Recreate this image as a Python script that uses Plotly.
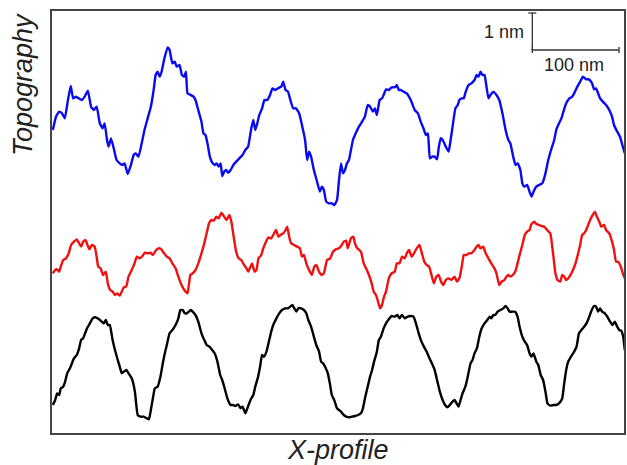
import numpy as np
import plotly.graph_objects as go

blue_x = [132,140,148,155,162,170,177,183,190,197,205,212,220,228,235,242,250,257,262,268,272,278,285,292,300,306,312,320,328,335,340,347,355,362,370,378,385,390,395,400,405,412,420,425,432,438,443,450,456,462,466,470,478,485,490,498,505,510,515,520,526,532,538,543,548,553,557,562,567,572,578,585,592,600,608,615,622,630,635,640,645,650,657,663,670,677,683,690,697,705,710,716,722,728,735,742,750,758,765,770,775,780,787,795,802,807,812,818,825,832,838,845,850,855,860,865,870,875,880,885,892,900,908,915,922,928,935,940,945,952,958,962,968,975,982,990,995,1000,1005,1012,1020,1030,1040,1048,1055,1062,1068,1073,1078,1084,1090,1096,1100,1105,1110,1118,1125,1130,1135,1142,1148,1152,1158,1163,1168,1175,1182,1190,1195,1200,1205,1210,1215,1220,1225,1230,1237,1245,1252,1260,1268,1275,1280,1287,1293,1298,1305,1310,1315,1322,1328,1333,1338,1345,1352,1360,1368,1375,1382,1390,1395,1402,1408,1413,1420,1428,1435,1440,1447,1455,1462,1470,1477,1485,1490,1495,1500,1505,1512,1520,1528,1535,1540,1548,1555,1562,1567]
blue_y = [390,350,335,340,355,300,258,295,290,295,300,290,272,320,330,320,370,385,370,420,440,415,445,480,490,495,490,522,495,465,460,470,430,390,355,320,270,225,215,230,215,175,142,150,190,185,200,195,225,230,215,280,285,290,300,335,365,400,405,430,470,488,495,490,500,490,528,515,510,518,510,495,485,475,465,450,440,385,360,390,370,345,325,300,300,285,265,270,265,260,245,270,275,300,325,325,340,380,420,480,455,470,510,545,575,560,570,605,610,610,615,600,540,490,520,510,490,480,450,420,400,380,365,350,315,320,335,325,345,300,295,285,268,270,262,262,255,270,270,275,280,300,330,340,365,385,405,400,475,470,470,478,445,415,420,440,455,420,380,325,315,300,295,295,275,255,250,240,225,230,215,225,225,260,295,285,275,285,300,340,390,420,430,470,495,490,510,550,560,555,575,590,575,560,555,550,520,480,450,420,390,370,355,335,310,295,290,280,262,245,230,238,238,250,268,265,280,295,305,315,330,350,375,395,410,440,460]

red_x = [132,138,143,148,152,158,165,172,178,185,192,198,203,208,214,218,224,230,237,242,246,252,258,265,270,276,282,288,294,300,305,310,316,322,330,337,343,350,357,363,370,377,383,390,397,404,410,418,425,432,440,447,455,462,470,477,483,490,497,505,512,518,524,530,536,542,548,555,562,568,575,580,587,592,598,605,612,618,622,628,632,638,643,648,655,660,667,673,680,687,692,698,703,710,716,720,725,730,737,745,752,757,762,768,775,782,788,793,800,806,812,820,828,835,842,850,857,862,868,872,876,880,886,890,896,905,912,918,925,932,937,943,948,953,958,963,968,975,982,990,995,1002,1008,1015,1020,1026,1032,1038,1045,1052,1058,1064,1070,1076,1082,1088,1094,1100,1106,1112,1118,1125,1132,1140,1146,1152,1158,1163,1170,1176,1182,1190,1195,1200,1205,1212,1218,1225,1232,1240,1245,1252,1258,1265,1270,1275,1280,1286,1292,1298,1303,1310,1316,1322,1328,1333,1340,1345,1352,1358,1365,1372,1380,1387,1393,1398,1405,1410,1415,1420,1428,1435,1442,1448,1455,1460,1465,1470,1475,1482,1488,1492,1497,1503,1508,1515,1520,1528,1535,1540,1545,1550,1557,1562,1567]
red_y = [820,810,808,815,800,780,775,760,735,725,718,730,740,725,720,732,748,735,740,770,800,805,825,815,850,870,875,885,880,887,875,862,860,830,810,790,770,775,768,758,760,758,765,752,745,748,758,770,775,790,805,830,855,870,880,825,820,810,790,760,730,700,670,660,662,650,655,638,650,660,645,665,720,755,775,780,795,805,815,800,790,815,810,775,765,745,725,712,715,700,690,710,705,700,690,680,710,730,735,740,745,770,765,790,810,825,800,795,815,825,820,780,775,755,748,745,735,725,722,745,730,715,710,730,745,755,790,805,825,850,875,885,905,925,915,890,875,835,820,815,790,790,770,775,760,750,770,760,745,735,760,785,795,800,825,850,830,825,845,855,840,835,840,830,845,835,800,765,765,760,760,750,740,735,745,740,760,775,790,805,820,855,845,840,830,825,830,825,815,790,765,735,705,695,690,672,665,672,675,678,680,690,700,760,820,840,845,825,830,840,830,815,795,770,735,705,700,690,675,655,642,635,650,665,680,675,690,700,725,750,785,785,800,820,835]

black_x = [132,138,143,148,152,158,163,168,175,180,185,192,198,203,208,213,218,225,232,240,248,255,260,265,270,275,282,288,295,300,305,310,317,322,330,338,345,352,360,368,373,378,383,388,395,402,408,413,418,425,432,440,447,452,458,463,468,473,478,483,490,497,505,512,518,525,532,538,545,552,557,562,570,578,584,590,597,603,608,615,620,628,635,640,647,652,657,662,668,675,680,685,693,700,707,715,722,728,733,738,743,748,755,762,768,773,780,787,793,800,805,810,815,822,827,832,838,845,850,855,862,868,875,882,890,898,905,910,916,922,928,933,938,945,950,955,962,968,975,982,990,996,1002,1008,1015,1022,1030,1037,1043,1050,1057,1063,1070,1077,1083,1090,1097,1103,1110,1116,1122,1128,1135,1140,1145,1150,1155,1160,1167,1173,1180,1185,1190,1196,1202,1208,1215,1222,1228,1232,1237,1242,1248,1255,1262,1268,1273,1278,1285,1292,1298,1303,1310,1316,1322,1328,1333,1338,1345,1350,1356,1362,1368,1373,1380,1388,1395,1402,1410,1415,1420,1425,1432,1440,1446,1452,1458,1465,1472,1478,1484,1490,1495,1500,1505,1510,1517,1523,1530,1536,1542,1548,1553,1558,1563,1567]
black_y = [1215,1200,1180,1185,1165,1160,1145,1120,1105,1090,1075,1065,1045,1020,1015,1000,985,970,955,952,958,965,970,960,975,975,1020,1050,1080,1100,1120,1115,1110,1120,1135,1175,1245,1250,1250,1255,1258,1230,1195,1165,1160,1130,1090,1060,1035,1000,990,975,955,930,930,940,940,935,930,935,945,965,1000,1020,1035,1040,1050,1060,1085,1125,1140,1160,1195,1215,1215,1218,1213,1225,1220,1240,1225,1200,1185,1160,1130,1100,1065,1070,1055,1020,995,975,955,940,930,925,925,920,915,925,935,925,925,930,940,960,980,1010,1035,1055,1085,1090,1100,1120,1150,1185,1200,1225,1230,1235,1245,1250,1252,1250,1248,1245,1240,1225,1190,1160,1130,1110,1085,1055,1020,1010,985,970,958,948,950,945,955,945,955,950,948,950,970,1000,1025,1040,1055,1075,1090,1110,1145,1175,1200,1215,1222,1215,1205,1200,1210,1220,1200,1180,1160,1130,1090,1080,1060,1045,1010,985,970,960,950,955,945,945,935,930,925,918,925,935,935,935,950,980,1010,1025,1035,1060,1070,1060,1085,1095,1125,1140,1175,1210,1217,1215,1215,1210,1195,1150,1110,1085,1070,1055,1040,1000,990,980,968,950,930,918,920,935,925,935,940,950,965,975,965,980,990,992,1010,1050]

# Convert picture units to nm (100 nm = 87 px, 1 nm = 37 px)
def to_nm(xs, ys):
    x = (np.array(xs) / 2.5 - 52) * 100 / 87
    y = (433 - np.array(ys) / 3) / 37
    return x, y

series = [("blue", blue_x, blue_y, "#0a0af0"),
          ("red", red_x, red_y, "#f01010"),
          ("black", black_x, black_y, "#000000")]

fig = go.Figure()
for name, xs, ys, col in series:
    x, y = to_nm(xs, ys)
    fig.add_trace(go.Scatter(x=x, y=y, mode="lines", name=name,
                             line=dict(color=col, width=2.4, shape="spline", smoothing=0.4),
                             hoverinfo="skip"))

# Scale bar (1 nm vertical, 100 nm horizontal)
sb_x0 = (534 - 52) * 100 / 87
sb_y0 = (433 - 50) / 37
bar_col = "#333333"
fig.add_trace(go.Scatter(x=[sb_x0, sb_x0, sb_x0 + 100], y=[sb_y0 + 1, sb_y0, sb_y0],
                         mode="lines", line=dict(color=bar_col, width=1.3), hoverinfo="skip"))
cap_w = 4 * 100 / 87
cap_h = 3 / 37
fig.add_trace(go.Scatter(x=[sb_x0 - cap_w, sb_x0 + cap_w], y=[sb_y0 + 1, sb_y0 + 1],
                         mode="lines", line=dict(color=bar_col, width=1.3), hoverinfo="skip"))
fig.add_trace(go.Scatter(x=[sb_x0 + 100, sb_x0 + 100], y=[sb_y0 - cap_h, sb_y0 + cap_h],
                         mode="lines", line=dict(color=bar_col, width=1.3), hoverinfo="skip"))
fig.add_trace(go.Scatter(x=[sb_x0, sb_x0], y=[sb_y0 - cap_h, sb_y0 + cap_h],
                         mode="lines", line=dict(color=bar_col, width=1.3), hoverinfo="skip"))

fig.add_annotation(x=sb_x0 - 6 * 100 / 87, y=sb_y0 + 0.5, xref="x", yref="y",
                   text="1 nm", showarrow=False, xanchor="right", yanchor="middle",
                   font=dict(family="Liberation Sans, Arial", size=18, color="#222"))
fig.add_annotation(x=sb_x0 + 48, y=sb_y0 - 0.08, xref="x", yref="y",
                   text="100 nm", showarrow=False, xanchor="center", yanchor="top",
                   font=dict(family="Liberation Sans, Arial", size=18, color="#222"))

title_font = dict(family="Liberation Sans, Arial", size=27, color="#222")
fig.add_annotation(x=-29 / 574, y=(433 - 85) / 422, xref="paper", yref="paper",
                   text="<i>Topography</i>", showarrow=False, textangle=-90,
                   xanchor="center", yanchor="middle", font=title_font)
fig.add_annotation(x=0.5, y=(433 - 450) / 422, xref="paper", yref="paper",
                   text="<i>X-profile</i>", showarrow=False,
                   xanchor="center", yanchor="middle", font=title_font)

axis_common = dict(showgrid=False, zeroline=False, showticklabels=False, ticks="",
                   showline=True, mirror=True, linecolor="#444444", linewidth=2)
fig.update_xaxes(range=[0, (626 - 52) * 100 / 87], **axis_common)
fig.update_yaxes(range=[0, (433 - 11) / 37], **axis_common)

fig.update_layout(width=627, height=465, showlegend=False,
                  margin=dict(l=52, r=1, t=11, b=32),
                  paper_bgcolor="white", plot_bgcolor="white")

fig.write_html("out.html")
